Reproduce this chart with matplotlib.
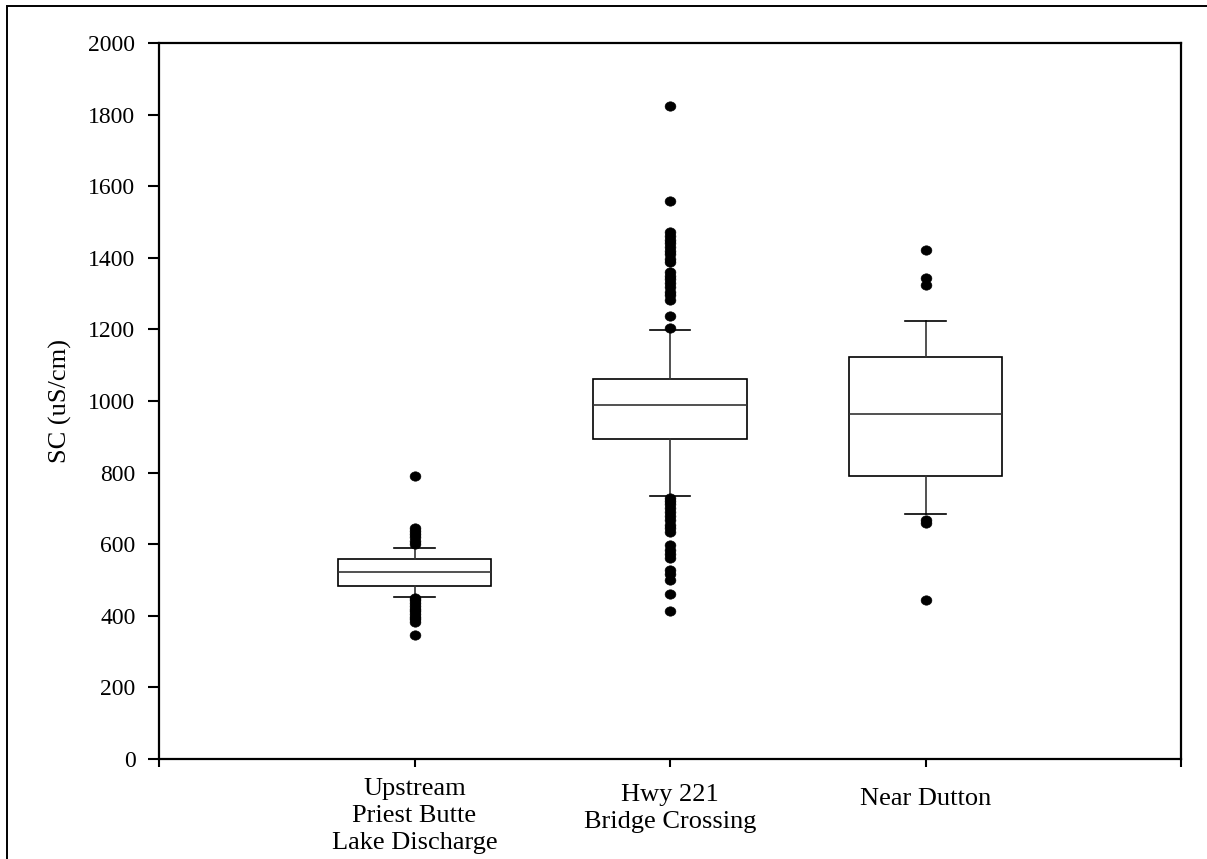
import matplotlib
matplotlib.use("Agg")
import matplotlib.pyplot as plt
from matplotlib.path import Path
from matplotlib.transforms import Affine2D
from matplotlib.patches import Rectangle

# Specific conductance summary per monitoring site
sites = ["Upstream\nPriest Butte\nLake Discharge",
         "Hwy 221\nBridge Crossing",
         "Near Dutton"]
q1 = [484, 893, 790]
median = [523, 990, 963]
q3 = [559, 1062, 1124]
whisker_low = [453, 735, 685]
whisker_high = [590, 1198, 1223]
outliers_site1 = [790, 645, 637, 628, 619, 610, 601,
                  450, 443, 435, 428, 420, 413, 405, 398, 390, 383, 346]
outliers_site2 = [1823, 1559, 1471, 1462, 1450, 1440, 1430, 1420, 1410,
                  1398, 1388, 1360, 1350, 1340, 1330, 1318, 1305, 1295,
                  1283, 1237, 1204,
                  729, 720, 712, 702, 690, 680, 668, 655, 645, 634,
                  597, 585, 572, 561, 528, 516, 500, 461, 413]
outliers_site3 = [1422, 1343, 1324, 668, 659, 444]
y_ticks = [0, 200, 400, 600, 800, 1000, 1200, 1400, 1600, 1800, 2000]

plt.rcParams["font.family"] = ["Liberation Serif", "DejaVu Serif"]

W, H = 1207, 859
fig = plt.figure(figsize=(W / 100, H / 100), dpi=100)
ax = fig.add_axes([159 / W, 1 - 759 / H, (1181 - 159) / W, (759 - 43) / H])

all_outliers = [outliers_site1, outliers_site2, outliers_site3]
stats = []
for i in range(len(sites)):
    stats.append(dict(med=median[i], q1=q1[i], q3=q3[i],
                      whislo=whisker_low[i], whishi=whisker_high[i],
                      fliers=all_outliers[i]))

dot = Path.unit_circle().transformed(Affine2D().scale(1.15, 1.0))
positions = [1, 2, 3]
ax.bxp(stats, positions=positions, widths=0.6, capwidths=0.157,
       showfliers=True, patch_artist=True,
       boxprops=dict(facecolor="white", edgecolor="black", linewidth=1.2),
       medianprops=dict(color="#333333", linewidth=1.2),
       whiskerprops=dict(color="#333333", linewidth=1.2),
       capprops=dict(color="black", linewidth=1.2),
       flierprops=dict(marker=dot, markerfacecolor="black",
                       markeredgecolor="black", markersize=7.8,
                       markeredgewidth=0.4))

ax.set_xlim(0, 4)
ax.set_ylim(0, 2000)
ax.set_yticks(y_ticks)
ax.set_yticklabels([str(v) for v in y_ticks], fontsize=17)
ax.set_xticks([0, 1, 2, 3, 4])
ax.set_xticklabels([])
ax.tick_params(axis="y", direction="out", length=8, width=1.5, pad=9)
ax.tick_params(axis="x", direction="out", length=6, width=1.5)
for sp in ax.spines.values():
    sp.set_linewidth(1.6)

ax.set_ylabel("SC (uS/cm)", fontsize=19)
ax.yaxis.set_label_coords(-0.085, 0.5)

# Site names under each box
label_offsets = [-19, -25, -29]
for pos, name, off in zip(positions, sites, label_offsets):
    ax.annotate(name, xy=(pos, 0), xycoords=("data", "axes fraction"),
                xytext=(0, off), textcoords="offset pixels",
                ha="center", va="top", fontsize=19, linespacing=1.3,
                multialignment="center", annotation_clip=False)

# Outer frame around the figure
fig.add_artist(Rectangle((7.3 / W, -0.2), 2.0, 1.2 - 5.7 / H,
                         transform=fig.transFigure, fill=False,
                         edgecolor="black", linewidth=1.4))

fig.savefig("out.png", dpi=100)
